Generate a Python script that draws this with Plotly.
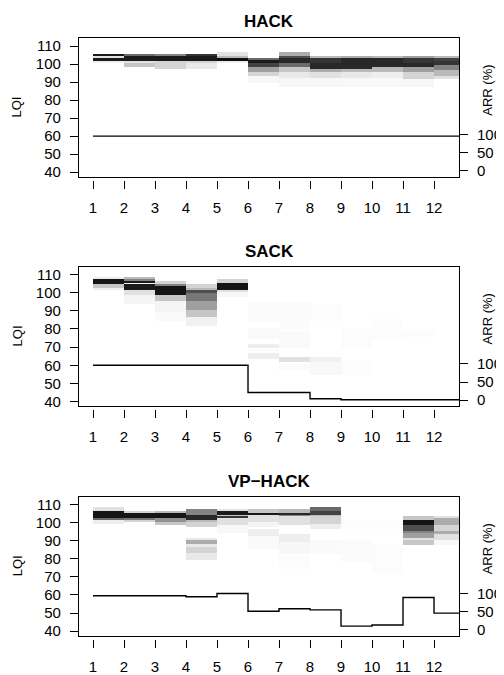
import plotly.graph_objects as go

# ---------------- data ----------------
TITLES = ["HACK", "SACK", "VP\u2212HACK"]
X_TICKS = [1, 2, 3, 4, 5, 6, 7, 8, 9, 10, 11, 12]
X_EDGES = [1, 2, 3, 4, 5, 6, 7, 8, 9, 10, 11, 12, 13]
LQI_TICKS = [40, 50, 60, 70, 80, 90, 100, 110]
ARR_TICKS = [0, 50, 100]

# ARR (%) per time bin
ARR_HACK = [96, 96, 96, 96, 96, 96, 96, 96, 96, 96, 96, 96]
ARR_SACK = [96, 96, 96, 96, 96, 21, 21, 4, 1, 1, 1, 1]
ARR_VPHACK = [94, 94, 94, 91, 100, 51, 58, 55, 10, 13, 89, 46]

# LQI distribution per time bin: (LQI from, LQI to, density level 0..1)
HACK_LQI = [
    [(105, 105, 0.9), (104, 104, 0.15), (102, 103, 0.9), (101, 101, 0.1)],
    [(105, 105, 0.6), (102, 104, 0.9), (101, 101, 0.15), (99, 100, 0.25)],
    [(105, 105, 0.5), (102, 104, 0.9), (101, 101, 0.2), (98, 100, 0.2)],
    [(105, 105, 0.8), (102, 104, 0.9), (101, 101, 0.2), (98, 100, 0.12)],
    [(105, 106, 0.15), (104, 104, 0.3), (102, 103, 0.95), (101, 101, 0.1)],
    [(103, 103, 0.6), (101, 102, 0.9), (99, 100, 0.75), (96, 98, 0.4), (94, 95, 0.2), (90, 93, 0.05)],
    [(105, 106, 0.35), (104, 104, 0.7), (101, 103, 0.85), (99, 100, 0.6), (96, 98, 0.25), (93, 95, 0.12), (88, 92, 0.05)],
    [(104, 104, 0.3), (101, 103, 0.8), (98, 100, 0.85), (96, 97, 0.35), (93, 95, 0.15), (88, 92, 0.05)],
    [(104, 104, 0.35), (101, 103, 0.85), (98, 100, 0.85), (96, 97, 0.3), (93, 95, 0.12), (88, 92, 0.04)],
    [(104, 104, 0.3), (101, 103, 0.85), (99, 100, 0.85), (96, 98, 0.3), (93, 95, 0.1), (88, 92, 0.04)],
    [(104, 104, 0.4), (101, 103, 0.8), (99, 100, 0.85), (96, 98, 0.4), (92, 95, 0.2), (88, 91, 0.05)],
    [(104, 104, 0.3), (102, 103, 0.75), (100, 101, 0.8), (97, 99, 0.5), (94, 96, 0.3), (92, 93, 0.15)],
]

SACK_LQI = [
    [(108, 108, 0.1), (105, 107, 0.92), (103, 104, 0.25), (102, 102, 0.1)],
    [(108, 108, 0.3), (107, 107, 0.5), (106, 106, 0.9), (105, 105, 0.1), (102, 104, 0.9), (99, 101, 0.15), (94, 98, 0.06)],
    [(105, 106, 0.2), (104, 104, 0.5), (99, 103, 0.92), (96, 98, 0.25), (90, 95, 0.06), (85, 89, 0.03)],
    [(103, 104, 0.2), (102, 102, 0.3), (100, 101, 0.7), (96, 99, 0.55), (91, 95, 0.4), (87, 90, 0.25), (82, 86, 0.08)],
    [(106, 107, 0.2), (102, 105, 0.92), (101, 101, 0.15), (98, 100, 0.05)],
    [(84, 94, 0.025), (75, 80, 0.03), (70, 71, 0.1), (68, 68, 0.06), (64, 66, 0.1)],
    [(80, 94, 0.025), (70, 78, 0.03), (62, 64, 0.15), (58, 60, 0.03)],
    [(85, 93, 0.02), (62, 64, 0.08), (55, 61, 0.04)],
    [(70, 80, 0.015), (55, 62, 0.02)],
    [(75, 85, 0.015)],
    [(76, 78, 0.02)],
    [],
]

VPHACK_LQI = [
    [(107, 108, 0.15), (103, 106, 0.92), (102, 102, 0.6), (100, 101, 0.1)],
    [(106, 106, 0.2), (103, 105, 0.92), (102, 102, 0.55), (101, 101, 0.2)],
    [(106, 106, 0.3), (103, 105, 0.92), (101, 102, 0.45), (99, 100, 0.25)],
    [(105, 107, 0.5), (102, 104, 0.85), (101, 101, 0.3), (98, 100, 0.2), (91, 91, 0.12),
     (89, 90, 0.35), (87, 88, 0.12), (84, 86, 0.2), (80, 83, 0.12)],
    [(107, 107, 0.15), (105, 106, 0.9), (104, 104, 0.25), (103, 103, 0.8), (99, 102, 0.15), (95, 98, 0.04)],
    [(106, 107, 0.25), (105, 105, 0.9), (101, 104, 0.15), (98, 100, 0.06), (93, 96, 0.1), (86, 92, 0.03)],
    [(106, 107, 0.3), (105, 105, 0.85), (104, 104, 0.5), (99, 103, 0.15), (90, 93, 0.1), (84, 89, 0.05), (75, 83, 0.02)],
    [(107, 108, 0.6), (105, 106, 0.75), (104, 104, 0.3), (100, 103, 0.2), (97, 99, 0.1), (83, 90, 0.03)],
    [(97, 101, 0.02), (79, 90, 0.025)],
    [(97, 101, 0.02), (73, 88, 0.02)],
    [(102, 103, 0.25), (99, 101, 0.92), (96, 98, 0.7), (95, 95, 0.5), (92, 94, 0.4), (91, 91, 0.15), (88, 90, 0.25)],
    [(103, 103, 0.15), (99, 102, 0.35), (96, 98, 0.2), (94, 95, 0.35), (91, 93, 0.15), (88, 90, 0.05)],
]

LQI_ROWS = list(range(36, 116))

PANELS = [
    (TITLES[0], HACK_LQI, ARR_HACK),
    (TITLES[1], SACK_LQI, ARR_SACK),
    (TITLES[2], VPHACK_LQI, ARR_VPHACK),
]

# ---------------- layout constants ----------------
# the page body adds an 8px margin; positions below are page pixels
OFF = 8
W, H = 504 - OFF, 675 - OFF
BOX_X = (79 - OFF, 459 - OFF)
BOX_Y = [(37.7 - OFF, 177.7 - OFF), (268.7 - OFF, 410.0 - OFF), (501.7 - OFF, 642.3 - OFF)]
TITLE_Y = [21 - OFF, 253 - OFF, 486 - OFF]
LQI_LABEL_X = 17 - OFF
ARR_LABEL_X = 487.5 - OFF
X_RANGE = [0.548, 12.806]
Y_RANGE = [37.5, 114.3]
# ARR a is drawn at LQI 40.8 + 0.2 a
ARR_RANGE = [(Y_RANGE[0] - 40.8) / 0.2, (Y_RANGE[1] - 40.8) / 0.2]
FONT = "Liberation Sans, Arial, Helvetica, sans-serif"
GRAYS = [[0, "rgb(255,255,255)"], [0.1, "rgb(238,238,238)"], [1, "rgb(0,0,0)"]]


def build_z(cols):
    z = [[None] * len(cols) for _ in LQI_ROWS]
    for c, bands in enumerate(cols):
        for lo, hi, lev in bands:
            for v in range(lo, hi + 1):
                z[v - LQI_ROWS[0]][c] = lev
    return z


def nm(i):
    return "" if i == 1 else str(i)


fig = go.Figure()
layout = dict(
    width=W, height=H, autosize=False,
    margin=dict(l=0, r=0, t=0, b=0),
    paper_bgcolor="white", plot_bgcolor="white",
    showlegend=False,
    font=dict(family=FONT, size=15, color="black"),
)
annotations = []
xdom = [BOX_X[0] / W, BOX_X[1] / W]

for p, (title, cols, arr) in enumerate(PANELS):
    mx, gx = 2 * p + 1, 2 * p + 2
    my, ay = 2 * p + 1, 2 * p + 2
    top, bot = BOX_Y[p]
    ydom = [1 - bot / H, 1 - top / H]

    fig.add_trace(go.Heatmap(
        x=X_EDGES, y=LQI_ROWS, z=build_z(cols),
        zmin=0, zmax=1, colorscale=GRAYS,
        showscale=False, hoverinfo="skip",
        xaxis="x" + nm(mx), yaxis="y" + nm(my),
    ))
    fig.add_trace(go.Scatter(
        x=X_EDGES, y=arr + [arr[-1]],
        mode="lines", line=dict(color="black", width=1.4, shape="hv"),
        hoverinfo="skip",
        xaxis="x" + nm(mx), yaxis="y" + nm(ay),
    ))
    # carrier for the detached x tick axis
    fig.add_trace(go.Scatter(
        x=X_TICKS, y=[None] * len(X_TICKS), mode="lines",
        hoverinfo="skip",
        xaxis="x" + nm(gx), yaxis="y" + nm(my),
    ))

    layout["xaxis" + nm(mx)] = dict(
        domain=xdom, range=X_RANGE, anchor="y" + nm(my),
        showline=True, mirror=True, linecolor="black", linewidth=1.2,
        ticks="", showticklabels=False, showgrid=False, zeroline=False,
    )
    layout["xaxis" + nm(gx)] = dict(
        overlaying="x" + nm(mx), anchor="free", position=1 - (bot + 3) / H,
        range=X_RANGE, tickvals=X_TICKS, ticks="outside", ticklen=8,
        tickwidth=1.1, tickcolor="black", showline=False, showgrid=False,
        zeroline=False, ticklabelstandoff=6,
        tickfont=dict(family=FONT, size=15, color="black"),
    )
    layout["yaxis" + nm(my)] = dict(
        domain=ydom, range=Y_RANGE, anchor="x" + nm(mx),
        tickvals=LQI_TICKS, ticks="outside", ticklen=8, tickwidth=1.1,
        tickcolor="black", showline=True, mirror=True, linecolor="black",
        linewidth=1.2, showgrid=False, zeroline=False, ticklabelstandoff=6,
        tickfont=dict(family=FONT, size=15, color="black"),
    )
    layout["yaxis" + nm(ay)] = dict(
        overlaying="y" + nm(my), side="right", anchor="x" + nm(mx),
        range=ARR_RANGE, tickvals=ARR_TICKS, ticks="outside", ticklen=8,
        tickwidth=1.1, tickcolor="black", showline=False, showgrid=False,
        zeroline=False, ticklabelstandoff=6,
        tickfont=dict(family=FONT, size=15, color="black"),
    )

    annotations.append(dict(
        text="<b>" + title + "</b>", xref="paper", yref="paper",
        x=(BOX_X[0] + BOX_X[1]) / 2 / W, y=1 - TITLE_Y[p] / H,
        xanchor="center", yanchor="middle", showarrow=False,
        font=dict(family=FONT, size=17, color="black"),
    ))
    annotations.append(dict(
        text="LQI", xref="paper", yref="y" + nm(my) + " domain",
        x=LQI_LABEL_X / W, y=0.5, xanchor="center", yanchor="middle",
        textangle=-90, showarrow=False,
        font=dict(family=FONT, size=13, color="black"),
    ))
    annotations.append(dict(
        text="ARR (%)", xref="paper", yref="y" + nm(my),
        x=ARR_LABEL_X / W, y=85.5, xanchor="center", yanchor="middle",
        textangle=-90, showarrow=False,
        font=dict(family=FONT, size=13, color="black"),
    ))

layout["annotations"] = annotations
fig.update_layout(**layout)
fig.write_html("out.html")
